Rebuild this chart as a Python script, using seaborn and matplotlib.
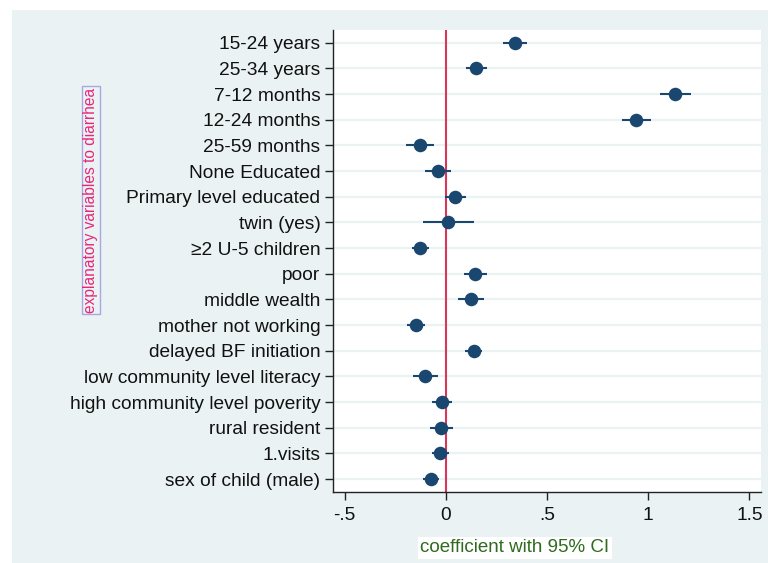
import numpy as np
import pandas as pd
import matplotlib
matplotlib.use("Agg")
import matplotlib.pyplot as plt
import seaborn as sns
from matplotlib.patches import Rectangle

# Data (coefficient with 95% CI)
variables = [
    "15-24 years", "25-34 years", "7-12 months", "12-24 months", "25-59 months",
    "None Educated", "Primary level educated", "twin (yes)", "\u22652 U-5 children",
    "poor", "middle wealth", "mother not working", "delayed BF initiation",
    "low community level literacy", "high community level poverity",
    "rural resident", "1.visits", "sex of child (male)",
]
coef = [0.343, 0.152, 1.134, 0.942, -0.127, -0.040, 0.046, 0.013, -0.127,
        0.145, 0.124, -0.149, 0.139, -0.101, -0.017, -0.022, -0.028, -0.074]
ci_low = [0.285, 0.100, 1.057, 0.871, -0.195, -0.102, -0.003, -0.112, -0.167,
          0.091, 0.059, -0.192, 0.097, -0.163, -0.068, -0.079, -0.069, -0.112]
ci_high = [0.400, 0.206, 1.211, 1.013, -0.056, 0.026, 0.100, 0.142, -0.081,
           0.204, 0.188, -0.104, 0.180, -0.037, 0.033, 0.036, 0.018, -0.032]
xticks = [-0.5, 0, 0.5, 1, 1.5]
xtick_labels = ["-.5", "0", ".5", "1", "1.5"]

df = pd.DataFrame({"variable": variables, "coef": coef, "lo": ci_low, "hi": ci_high})

sns.set_theme(style="white")
plt.rcParams["font.family"] = ["Liberation Sans", "DejaVu Sans"]

navy = "#1a476f"
panel = "#eaf2f3"
W, H = 768, 563

fig = plt.figure(figsize=(W / 100, H / 100), dpi=100, facecolor="white")
# light panel behind the plot region
fig.patches.append(Rectangle((12 / W, 0), 1, 1 - 10 / H, transform=fig.transFigure,
                             facecolor=panel, edgecolor="none", zorder=-5))

ax = fig.add_axes([333 / W, 1 - 492 / H, (761 - 333) / W, (492 - 30) / H])
ax.set_zorder(2)
ax.set_facecolor("white")

pos = np.arange(len(df))
for y in pos:
    ax.axhline(y, color=panel, lw=1.6, zorder=0)
ax.axvline(0, color="#d8365a", lw=1.5, zorder=1)
ax.hlines(pos, df["lo"], df["hi"], color=navy, lw=1.5, zorder=2)
sns.scatterplot(data=df, x="coef", y="variable", ax=ax, color=navy, s=95,
                edgecolor=navy, linewidth=0, zorder=3, legend=False)

ax.set_ylim(len(df) - 0.5, -0.5)
ax.set_xlim(-0.557, 1.558)
ax.set_xticks(xticks)
ax.set_xticklabels(xtick_labels)
ax.set_yticks(pos)
ax.set_yticklabels(variables)
ax.set_xlabel("")
ax.set_ylabel("")

for s in ["top", "right"]:
    ax.spines[s].set_visible(False)
for s in ["left", "bottom"]:
    ax.spines[s].set_color("#222222")
    ax.spines[s].set_linewidth(1.0)
ax.tick_params(axis="both", which="major", length=6, width=1, color="#222222",
               labelsize=13.8, labelcolor="#111111", pad=3, left=True, bottom=True)
ax.tick_params(axis="x", pad=5)

fig.text(91 / W, 1 - 200 / H, "explanatory variables to diarrhea", rotation=90,
         ha="center", va="center", fontsize=11.2, color="#e8267a",
         bbox=dict(facecolor="none", edgecolor="#a8a8e0", boxstyle="square,pad=0.1", lw=1))
fig.text(515 / W, 1 - 548 / H, "coefficient with 95% CI", ha="center", va="center",
         fontsize=13.5, color="#2f6a1e",
         bbox=dict(facecolor="white", edgecolor="none", boxstyle="square,pad=0.12"))

fig.savefig("out.png", dpi=100, facecolor="white")
